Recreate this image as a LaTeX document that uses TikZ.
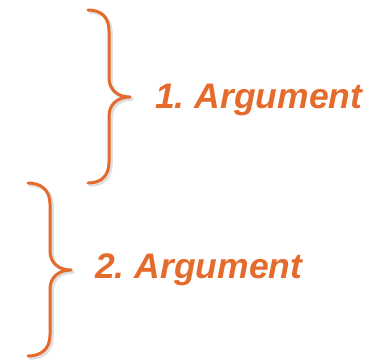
\documentclass[tikz,border=0pt]{standalone}
\usepackage{fontspec}
\setmainfont{Liberation Sans}
\definecolor{argorange}{RGB}{228,107,44}
\begin{document}
\frenchspacing
\begin{tikzpicture}[x=1pt,y=-1pt,
  bracestyle/.style={draw=argorange,line width=3pt,line cap=round,line join=round},
  braceshadow/.style={draw=black!25,line width=3.5pt,line cap=round,line join=round,opacity=0.5},
  arglabel/.style={anchor=base west,inner sep=0pt,text=argorange,font=\fontsize{35.5}{42}\selectfont\bfseries\itshape}]
\useasboundingbox (0,0) rectangle (369,360);
\foreach \dx/\dy/\st in {2/2/braceshadow,0/0/bracestyle}{
% brace 1
\draw[\st,shift={(\dx,\dy)}] (88,10) .. controls (101,10) and (109,17) .. (109,31)
  -- (109,78) .. controls (109,90) and (118,97) .. (130,97)
  .. controls (118,97) and (109,104) .. (109,116)
  -- (109,162) .. controls (109,176) and (101,183) .. (88,183);
% brace 2
\draw[\st,shift={(\dx,\dy)}] (28,183) .. controls (41,183) and (50,190) .. (50,204)
  -- (50,251) .. controls (50,263) and (59,270) .. (71,270)
  .. controls (59,270) and (50,277) .. (50,289)
  -- (50,335) .. controls (50,349) and (41,356) .. (28,356);
}
\node[arglabel] (arg1) at (155,108) {1.\ Argument};
\node[arglabel] (arg2) at (95,278) {2.\ Argument};
\end{tikzpicture}
\end{document}
